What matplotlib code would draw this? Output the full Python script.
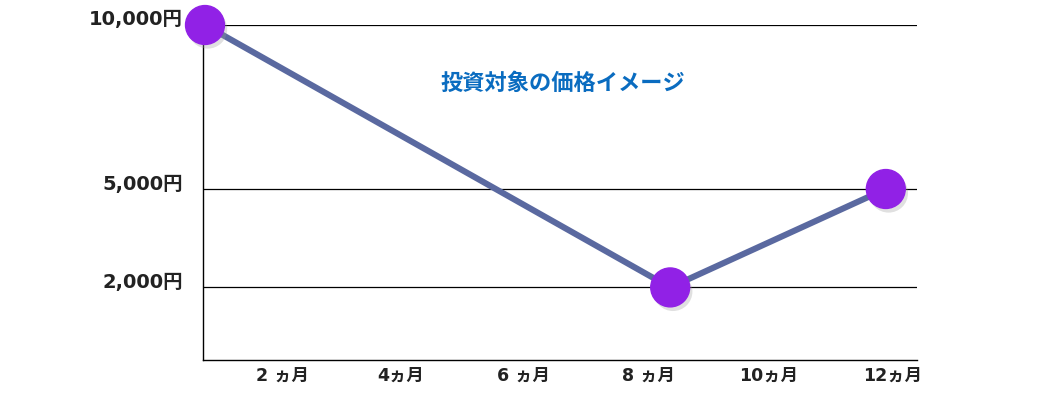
import matplotlib
matplotlib.use("Agg")
import matplotlib.pyplot as plt
import matplotlib.patheffects as pe
from matplotlib.transforms import offset_copy

# ---- data ----
months = [0, 8.2, 12]
prices = [10000, 2000, 5000]
grid_values = [10000, 5000, 2000]
y_labels = ["10,000円", "5,000円", "2,000円"]
x_labels = ["2 ヵ月", "4ヵ月", "6 ヵ月", "8 ヵ月", "10ヵ月", "12ヵ月"]
title = "投資対象の価格イメージ"

# ---- layout ----
x_label_pos = [1.36, 3.45, 5.62, 7.81, 9.94, 12.12]
fonts = ["DejaVu Sans", "Noto Sans CJK JP"]

fig = plt.figure(figsize=(10.54, 4.02), dpi=100)
ax = fig.add_axes([203/1054, 41/402, 714/1054, 335/402])
ax.set_xlim(-0.035, 12.55)
ax.set_ylim(-213, 10000)

for s in ["top", "right"]:
    ax.spines[s].set_visible(False)
for s in ["left", "bottom"]:
    ax.spines[s].set_color("black")
    ax.spines[s].set_linewidth(1.0)

for v in grid_values:
    ax.axhline(v, color="black", lw=0.9, zorder=1)

ax.set_xticks([])
ax.set_yticks([])

# line
ax.plot(months, prices, color="#5a69a0", lw=4.4, zorder=3, solid_capstyle="butt")
# markers with shadow
ax.plot(months, prices, ls="none", marker="o", markersize=28,
        markerfacecolor="#9121e6", markeredgecolor="#9121e6", zorder=4, clip_on=False,
        path_effects=[pe.SimplePatchShadow(offset=(2, -3), shadow_rgbFace="#999999", alpha=0.3),
                      pe.Normal()])

# y labels
ytrans = offset_copy(ax.get_yaxis_transform(), fig=fig, x=-20, y=6, units="dots")
for v, lab in zip(grid_values, y_labels):
    ax.text(0, v, lab, transform=ytrans, ha="right", va="center",
            fontsize=14, fontweight="bold", color="#222222", family=fonts)

# x labels
xtrans = offset_copy(ax.get_xaxis_transform(), fig=fig, x=0, y=-15, units="dots")
for p, lab in zip(x_label_pos, x_labels):
    ax.text(p, 0, lab, transform=xtrans, ha="center", va="center",
            fontsize=12.5, fontweight="bold", color="#222222", family=fonts)

# title
fig.text(563/1054, 1 - 83/402, title, ha="center", va="center", fontsize=16,
         fontweight="bold", color="#0a6cc0", family=["Noto Sans CJK JP", "DejaVu Sans"])

fig.savefig("out.png", dpi=100)
